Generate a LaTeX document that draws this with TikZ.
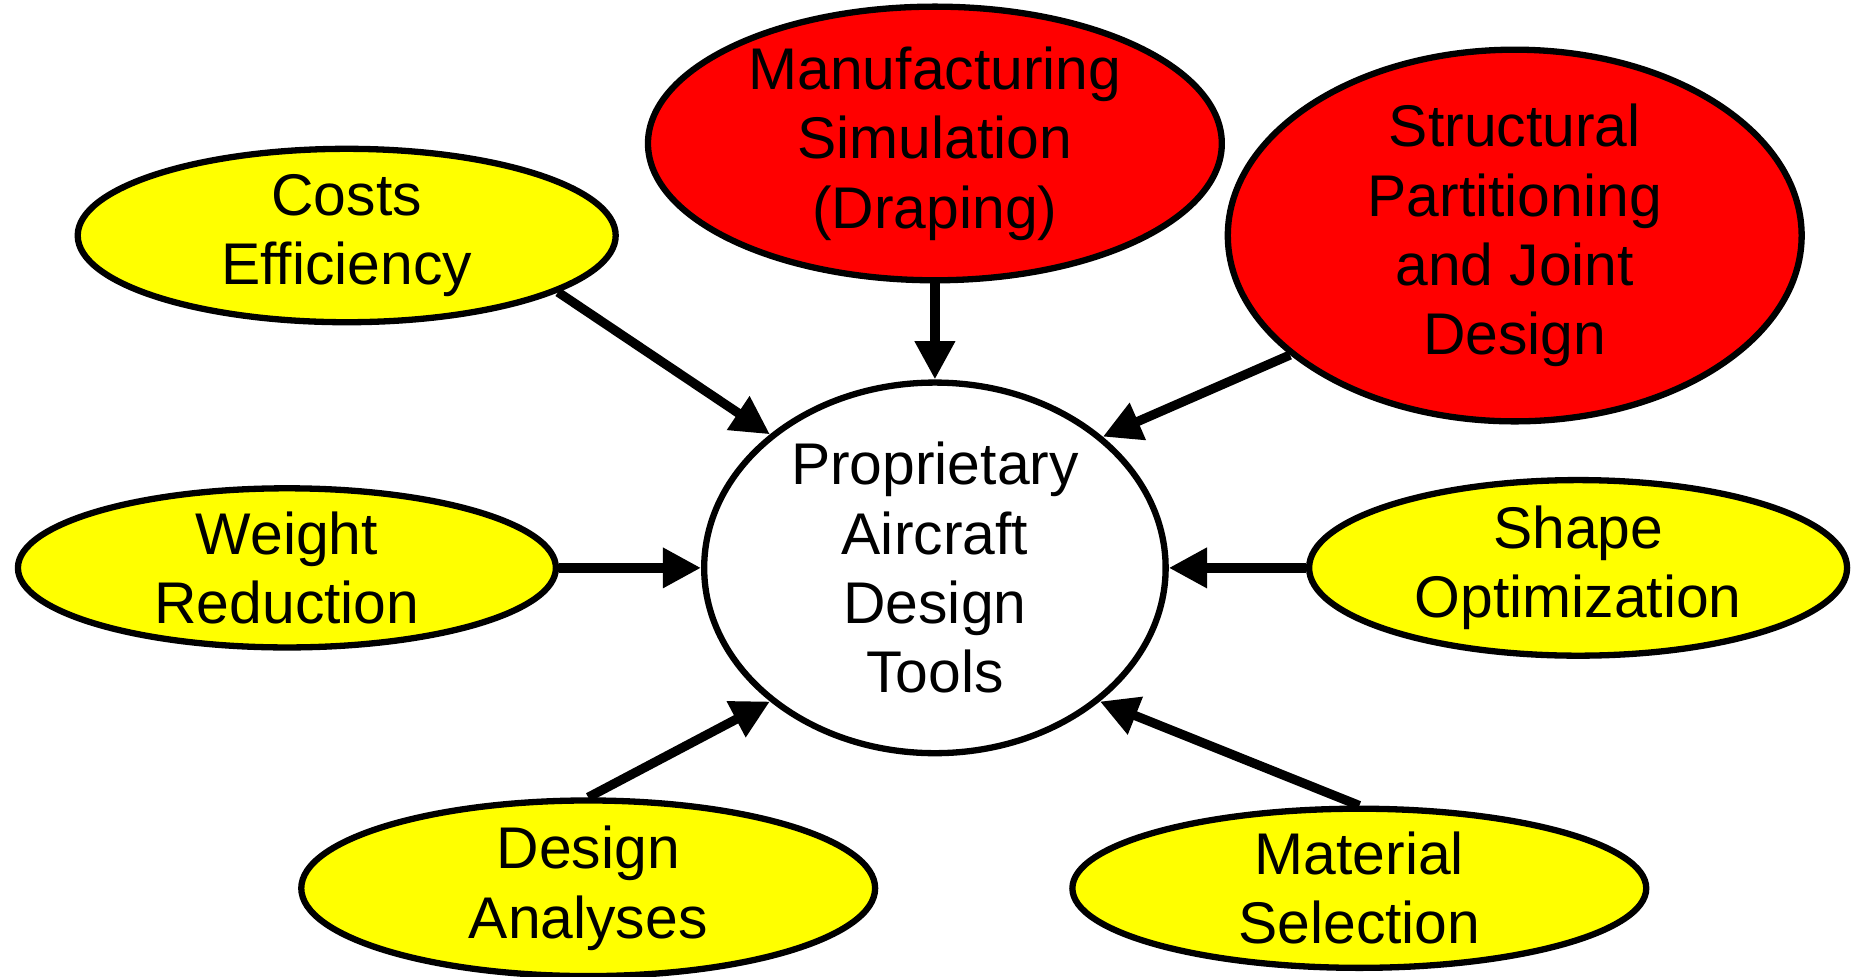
\documentclass[tikz,border=0pt]{standalone}
\usepackage{fontspec}
\setmainfont{Liberation Sans}
\usetikzlibrary{shapes.geometric,arrows.meta}
\definecolor{goalyellow}{RGB}{255,255,0}
\definecolor{toolred}{RGB}{255,0,0}
\tikzset{
  bubble/.style={ellipse, draw=black, line width=1.5pt, align=center, inner sep=0pt,
    font=\fontsize{14}{16.5}\selectfont},
  feed/.style={line width=2.2pt, -{Triangle[length=0.32cm,width=0.32cm]}}
}
\begin{document}
\begin{tikzpicture}
  \useasboundingbox (0,0) rectangle (15.6,-8.17);
  \node[bubble, fill=white, minimum width=3.86cm, minimum height=3.1cm] (core) at (7.82,-4.75) {Proprietary\\Aircraft\\Design\\Tools};
  \node[bubble, fill=toolred, minimum width=4.8cm, minimum height=2.06cm] (drape) at (7.82,-1.2) {Manufacturing\\Simulation\\(Draping)};
  \node[bubble, fill=toolred, minimum width=4.8cm, minimum height=2.46cm] (joint) at (12.67,-1.97) {Structural\\Partitioning\\and Joint\\Design};
  \node[bubble, fill=goalyellow, minimum width=4.5cm, minimum height=1.1cm] (cost) at (2.9,-1.97) {Costs\\Efficiency};
  \node[bubble, fill=goalyellow, minimum width=4.5cm, minimum height=1.1cm] (weight) at (2.4,-4.75) {Weight\\Reduction};
  \node[bubble, fill=goalyellow, minimum width=4.5cm, minimum height=1.36cm] (shape) at (13.2,-4.75) {Shape\\Optimization};
  \node[bubble, fill=goalyellow, minimum width=4.8cm, minimum height=1.1cm] (analysis) at (4.92,-7.43) {Design\\Analyses};
  \node[bubble, fill=goalyellow, minimum width=4.8cm, minimum height=1.1cm] (material) at (11.37,-7.43) {Material\\Selection};
  % arrows into the core
  \draw[feed] (cost.-15) -- (core.141);
  \draw[feed] (drape.south) -- (core.north);
  \draw[feed] (joint.208) -- (core.38);
  \draw[feed] (weight.east) -- (core.west);
  \draw[feed] (shape.west) -- (core.east);
  \draw[feed] (analysis.north) -- (core.219);
  \draw[feed] (material.north) -- (core.321);
\end{tikzpicture}
\end{document}
